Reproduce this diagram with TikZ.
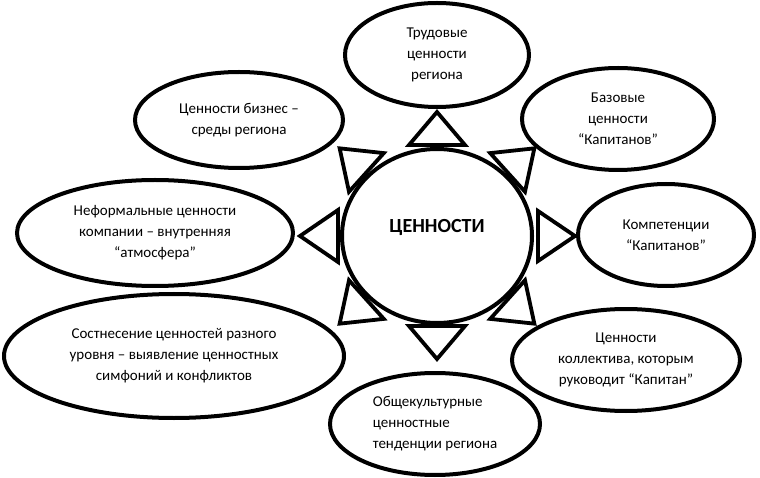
\documentclass[tikz,border=0pt]{standalone}
\usepackage{fontspec}
\setmainfont{Carlito}
\usetikzlibrary{shapes.geometric}

\tikzset{
  value/.style={ellipse, draw, line width=4pt, inner sep=0pt, align=center,
    font=\fontsize{15}{21}\selectfont},
  pointer/.style={draw, line width=3.8pt, line join=miter}
}

\begin{document}
\begin{tikzpicture}[x=1pt, y=1pt]
\useasboundingbox (0,0) rectangle (760,477);

\node[value, minimum width=190, minimum height=174,
  label={[font=\fontsize{20}{24}\selectfont\bfseries, yshift=9pt]center:ЦЕННОСТИ}] (values) at (437,241) {};

\node[value, minimum width=184, minimum height=104] (labour) at (437,422) {Трудовые\\ценности\\региона};
\node[value, minimum width=208, minimum height=96] (business) at (239,357) {Ценности бизнес –\\среды региона};
\node[value, minimum width=192, minimum height=102] (basic) at (618,358) {Базовые\\ценности\\“Капитанов”};
\node[value, minimum width=276, minimum height=106] (informal) at (155,244) {Неформальные ценности\\компании – внутренняя\\“атмосфера”};
\node[value, minimum width=176, minimum height=102] (skills) at (666,242) {Компетенции\\“Капитанов”};
\node[value, minimum width=340, minimum height=124] (compare) at (174,121) {Состнесение ценностей разного\\уровня – выявление ценностных\\симфоний и конфликтов};
\node[value, minimum width=228, minimum height=102] (team) at (626,117) {Ценности\\коллектива, которым\\руководит “Капитан”};
\node[value, align=left, minimum width=210, minimum height=102] (culture) at (435,53) {Общекультурные\\ценностные\\тенденции региона};

% triangles round the centre
\foreach \ang/\dist/\half/\len in {90/91/28/33, 270/90/28/33, 180/99/26/38, 0/101/25/37,
    138/95/26/36, 42/95/26/36, 222/95/26/36, 318/95/26/36}
  \draw[pointer, shift={(values.center)}, rotate=\ang] (\dist,-\half) -- (\dist+\len,0) -- (\dist,\half) -- cycle;

\end{tikzpicture}
\end{document}
